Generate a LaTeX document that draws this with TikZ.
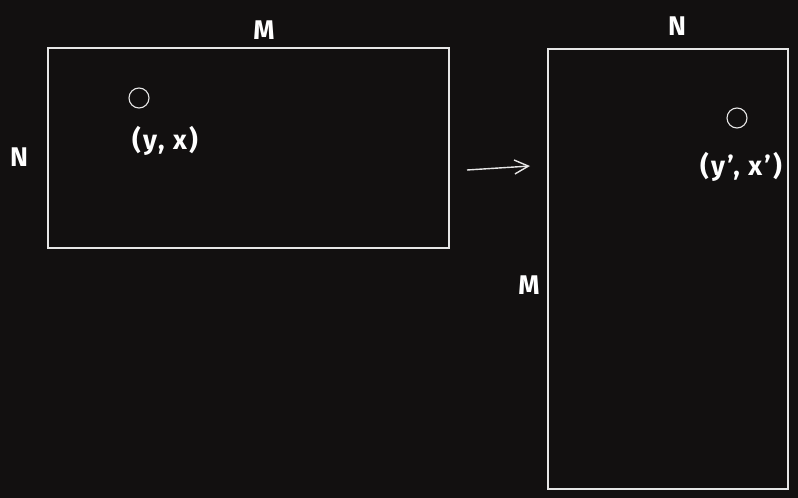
\documentclass[tikz,border=0pt]{standalone}
\usepackage{fontspec}
\setmainfont{Fira Sans}
\usetikzlibrary{arrows.meta}
\definecolor{board}{HTML}{121010}
\definecolor{chalk}{HTML}{E6E6E6}
\tikzset{
  sheet/.style={draw=chalk, line width=1.6pt, minimum width=#1, inner sep=0pt, anchor=north west},
  dot/.style={circle, draw=chalk, line width=1.1pt, minimum size=20pt, inner sep=0pt},
  lbl/.style={text=white, font=\fontsize{27}{30}\selectfont\bfseries},
  coordlbl/.style={lbl, font=\fontsize{27}{30}\selectfont\bfseries\addfontfeature{LetterSpace=8}}
}
\begin{document}
\begin{tikzpicture}[>=stealth, x=1pt, y=-1pt]
  \fill [board] (0,0) rectangle (798,498);
  \useasboundingbox (0,0) rectangle (798,498);

  \node [sheet=401pt, minimum height=200pt] (src) at (47,47) {};
  \node [sheet=240pt, minimum height=440pt] (dst) at (547,48) {};

  \node [lbl] (srcw) at (264,30)  {M};
  \node [lbl] (srch) at (19,157)  {N};
  \node [lbl] (dstw) at (677,26)  {N};
  \node [lbl] (dsth) at (529,285) {M};

  \node [dot] (p)  at (139,98)  {};
  \node [dot] (q)  at (737,118) {};
  \node [coordlbl] (pl) at (165,141) {(y, x)};
  \node [coordlbl] (ql) at (741,167) {(y', x')};

  \coordinate (a0) at (467,170);
  \coordinate (a1) at (530,166);
  \draw [->, chalk, line width=1.4pt, >={Straight Barb[length=14pt, width=14pt]}] (a0) -- (a1);
\end{tikzpicture}
\end{document}
